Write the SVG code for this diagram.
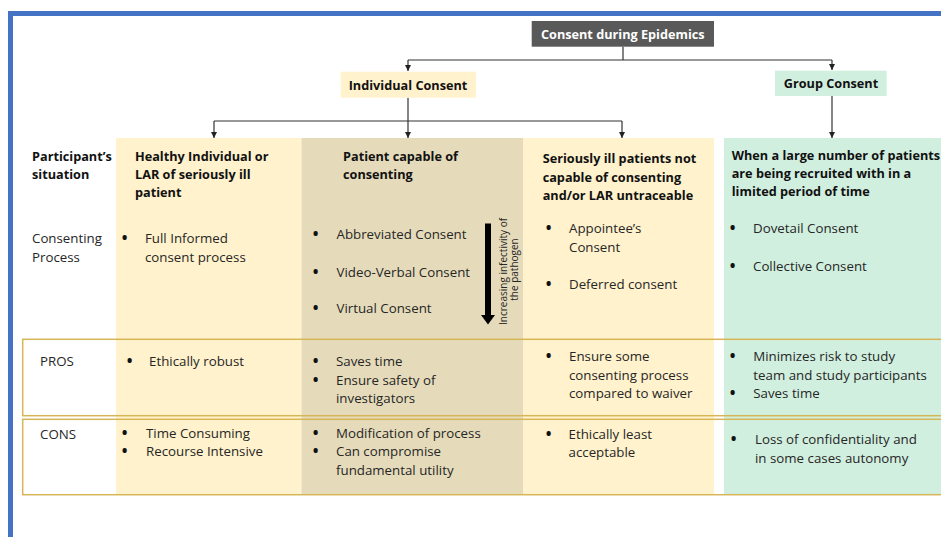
<svg xmlns="http://www.w3.org/2000/svg" width="941" height="537" viewBox="0 0 941 537">
<defs>
<marker id="ah" viewBox="0 0 10 10" refX="10" refY="5" markerWidth="6" markerHeight="6" markerUnits="userSpaceOnUse" orient="auto"><path d="M0,0 L10,5 L0,10 z" fill="#222"/></marker>
</defs>
<style>
text{font-family:"Open Sans","Liberation Sans",sans-serif;fill:#262626}
.r{font-size:13.3px}
.bl{font-size:13.3px;font-weight:900;fill:#111}
.b{font-size:12.7px;font-weight:bold;fill:#111}
.w{fill:#fff}
.c{stroke:#333;stroke-width:1.2;fill:none}
.row{fill:none;stroke:#D6B656;stroke-width:1.5}
.rot{font-size:10px}
</style>
<rect x="0" y="0" width="941" height="537" fill="#fff"/>
<rect x="10.5" y="13.5" width="1000" height="600" fill="none" stroke="#4472C4" stroke-width="5"/>

<g id="columns">
<rect x="116" y="138" width="185.5" height="357" fill="#FFF2CC"/>
<rect x="301.5" y="138" width="221.5" height="357" fill="#E5DBBA"/>
<rect x="523" y="138" width="191" height="357" fill="#FFF2CC"/>
<rect x="724" y="138" width="230" height="357" fill="#D1EFDF"/>
</g>

<g id="rows">
<rect class="row" x="22.7" y="339.3" width="930" height="76.4"/>
<rect class="row" x="22.7" y="419.3" width="930" height="75.4"/>
</g>

<g id="connectors">
<path class="c" d="M623,46.7 V60 M408,60 H832"/>
<path class="c" d="M408,60 V71" marker-end="url(#ah)"/>
<path class="c" d="M832,60 V70" marker-end="url(#ah)"/>
<path class="c" d="M408,97.7 V138" marker-end="url(#ah)"/>
<path class="c" d="M214,121 H622"/>
<path class="c" d="M214,121 V138" marker-end="url(#ah)"/>
<path class="c" d="M622,121 V138" marker-end="url(#ah)"/>
<path class="c" d="M832,96 V138" marker-end="url(#ah)"/>
</g>

<g id="root">
<rect x="531.7" y="21" width="182.3" height="25.7" fill="#595959"/>
<text class="b w" x="622.8" y="38.5" text-anchor="middle">Consent during Epidemics</text>
</g>
<g id="individual">
<rect x="340.7" y="71.7" width="135.3" height="26" fill="#FFF2CC"/>
<text class="b" x="408" y="89.5" text-anchor="middle">Individual Consent</text>
</g>
<g id="group">
<rect x="775" y="70.7" width="111.7" height="25.3" fill="#D1EFDF"/>
<text class="b" x="831" y="88" text-anchor="middle">Group Consent</text>
</g>

<g id="labels">
<text class="b" x="32" y="161">Participant’s</text>
<text class="b" x="32" y="179">situation</text>
<text class="r" x="32" y="243">Consenting</text>
<text class="r" x="32" y="262">Process</text>
<text class="r" x="40" y="366">PROS</text>
<text class="r" x="40" y="438.5">CONS</text>
</g>

<g id="healthy">
<text class="b" x="135" y="161">Healthy Individual or</text>
<text class="b" x="135" y="179">LAR of seriously ill</text>
<text class="b" x="135" y="197">patient</text>
<text class="bl" x="122" y="243">•</text><text class="r" x="145" y="243">Full Informed</text>
<text class="r" x="145" y="262">consent process</text>
<text class="bl" x="127" y="366">•</text><text class="r" x="149" y="366">Ethically robust</text>
<text class="bl" x="122" y="437.5">•</text><text class="r" x="146" y="437.5">Time Consuming</text>
<text class="bl" x="122" y="456">•</text><text class="r" x="146" y="456">Recourse Intensive</text>
</g>

<g id="capable">
<text class="b" x="343" y="161">Patient capable of</text>
<text class="b" x="343" y="179">consenting</text>
<text class="bl" x="313" y="239">•</text><text class="r" x="336.5" y="239">Abbreviated Consent</text>
<text class="bl" x="313" y="276.5">•</text><text class="r" x="336.5" y="276.5">Video-Verbal Consent</text>
<text class="bl" x="313" y="313">•</text><text class="r" x="336.5" y="313">Virtual Consent</text>
<path d="M485,223.5 H491 V315 H495 L488,324.5 L481,315 H485 Z" fill="#000"/>
<text class="rot" transform="translate(507,271.5) rotate(-90)" text-anchor="middle">Increasing infectivity of</text>
<text class="rot" transform="translate(518,269.5) rotate(-90)" text-anchor="middle">the pathogen</text>
<text class="bl" x="313" y="366">•</text><text class="r" x="336" y="366">Saves time</text>
<text class="bl" x="313" y="384.5">•</text><text class="r" x="336" y="384.5">Ensure safety of</text>
<text class="r" x="336" y="403">investigators</text>
<text class="bl" x="313" y="437.5">•</text><text class="r" x="336" y="437.5">Modification of process</text>
<text class="bl" x="313" y="456">•</text><text class="r" x="336" y="456">Can compromise</text>
<text class="r" x="336" y="475">fundamental utility</text>
</g>

<g id="seriously">
<text class="b" x="542.7" y="163">Seriously ill patients not</text>
<text class="b" x="542.7" y="181.5">capable of consenting</text>
<text class="b" x="542.7" y="200">and/or LAR untraceable</text>
<text class="bl" x="546" y="233">•</text><text class="r" x="569" y="233">Appointee’s</text>
<text class="r" x="569" y="252">Consent</text>
<text class="bl" x="546" y="289">•</text><text class="r" x="569" y="289">Deferred consent</text>
<text class="bl" x="546" y="361">•</text><text class="r" x="569" y="361">Ensure some</text>
<text class="r" x="569" y="379.5">consenting process</text>
<text class="r" x="569" y="398">compared to waiver</text>
<text class="bl" x="546" y="438.5">•</text><text class="r" x="568.5" y="438.5">Ethically least</text>
<text class="r" x="568.5" y="457">acceptable</text>
</g>

<g id="groupcol">
<text class="b" x="731.7" y="159.5">When a large number of patients</text>
<text class="b" x="731.7" y="178">are being recruited with in a</text>
<text class="b" x="731.7" y="196">limited period of time</text>
<text class="bl" x="730" y="233">•</text><text class="r" x="753" y="233">Dovetail Consent</text>
<text class="bl" x="730" y="271">•</text><text class="r" x="753" y="271">Collective Consent</text>
<text class="bl" x="730" y="361">•</text><text class="r" x="753.3" y="361">Minimizes risk to study</text>
<text class="r" x="753.3" y="379.5">team and study participants</text>
<text class="bl" x="730" y="398">•</text><text class="r" x="753.3" y="398">Saves time</text>
<text class="bl" x="731" y="444">•</text><text class="r" x="755" y="444">Loss of confidentiality and</text>
<text class="r" x="755" y="463">in some cases autonomy</text>
</g>
</svg>
